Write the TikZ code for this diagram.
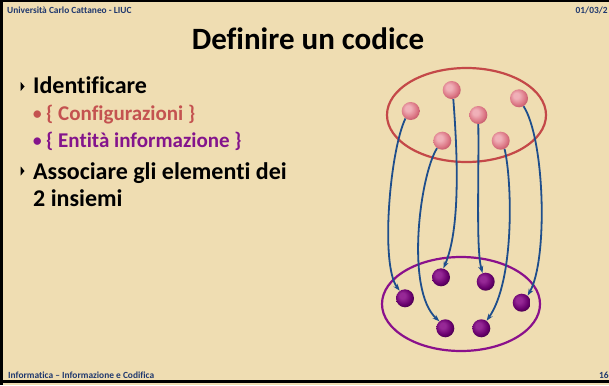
\documentclass[tikz,border=0pt]{standalone}
\usepackage{fontspec}
\setmainfont{Carlito}[Ligatures=NoCommon]
\usetikzlibrary{arrows.meta}
\definecolor{parch}{RGB}{239,221,178}
\definecolor{hdrblue}{RGB}{31,56,110}
\definecolor{cfgred}{RGB}{196,82,80}
\definecolor{infopurp}{RGB}{132,20,140}
\definecolor{ellred}{RGB}{196,72,72}
\definecolor{ellpurp}{RGB}{138,16,140}
\definecolor{pinkhi}{RGB}{240,176,184}
\definecolor{pinkmid}{RGB}{220,120,134}
\definecolor{pinklo}{RGB}{188,78,96}
\definecolor{purphi}{RGB}{150,40,150}
\definecolor{purpmid}{RGB}{105,0,110}
\definecolor{purplo}{RGB}{60,0,66}
\definecolor{arrblue}{RGB}{30,78,140}
\pgfdeclareradialshading{pinkshade}{\pgfpoint{-9bp}{9bp}}{color(0bp)=(pinkhi); color(8bp)=(pinkhi); color(22bp)=(pinkmid); color(32bp)=(pinklo); color(50bp)=(pinklo)}
\pgfdeclareradialshading{purpshade}{\pgfpoint{-9bp}{9bp}}{color(0bp)=(purphi); color(8bp)=(purphi); color(22bp)=(purpmid); color(32bp)=(purplo); color(50bp)=(purplo)}
\tikzset{
  hdr/.style={anchor=base west, text=hdrblue, font=\fontsize{9.4}{10}\selectfont\bfseries, inner sep=0},
  bigtxt/.style={anchor=base west, font=\fontsize{24}{28}\selectfont\bfseries, inner sep=0},
  subtxt/.style={anchor=base west, font=\fontsize{21}{24}\selectfont\bfseries, inner sep=0},
  dot/.style={anchor=base west, font=\fontsize{21}{24}\selectfont, inner sep=0},
  pball/.style={circle, minimum size=18pt, inner sep=0, shading=pinkshade},
  vball/.style={circle, minimum size=18pt, inner sep=0, shading=purpshade},
  maparr/.style={draw=arrblue, line width=1.8pt, -{Stealth[length=7pt,width=5pt]}},
}
\begin{document}
\begin{tikzpicture}[x=1pt,y=-1pt]
\useasboundingbox (0,0) rectangle (609,385);
\fill[parch] (0,0) rectangle (609,385);
\fill[black] (0,0) rectangle (609,2.5);
\fill[black] (0,0) rectangle (2.7,385);
\fill[black] (0,380) rectangle (609,383);

% header / footer
\node[hdr] (uni) at (7,14) {Università Carlo Cattaneo - LIUC};
\node[hdr] (date) at (575.5,14) {01/03/2};
\node[hdr] (foot) at (8,378) {Informatica – Informazione e Codifica};
\node[hdr] (page) at (599,378) {16};

% title
\node[anchor=base, font=\fontsize{31}{35}\selectfont\bfseries, inner sep=0] (title) at (308,49.3) {Definire un codice};

% bullets
\fill (20.7,82) -- (24.5,86.5) -- (20.7,91) -- cycle;
\node[bigtxt] (l1) at (33,93.3) {Identificare};
\node[dot, text=cfgred] (d1) at (32,120) {•};
\node[subtxt, text=cfgred] (l2) at (46,120) {\{ Configurazioni \}};
\node[dot, text=infopurp] (d2) at (32,147.3) {•};
\node[subtxt, text=infopurp] (l3) at (46,147.3) {\{ Entità informazione \}};
\fill (20.7,166.5) -- (24.5,171) -- (20.7,175.5) -- cycle;
\node[bigtxt] (l4) at (33,179.3) {Associare gli elementi dei};
\node[bigtxt] (l5) at (33,206) {2 insiemi};

% sets
\draw[ellred, line width=2.2pt] (466.5,115) ellipse [x radius=79.5, y radius=47];
\draw[ellpurp, line width=2.2pt] (461,304) ellipse [x radius=79, y radius=47];

\node[pball] (t1) at (451.7,90) {};
\node[pball] (t2) at (410.7,111) {};
\node[pball] (t3) at (519,98.3) {};
\node[pball] (t4) at (478.3,115) {};
\node[pball] (t5) at (442.3,140.7) {};
\node[pball] (t6) at (500.7,140.7) {};

\node[vball] (ba) at (441,277.3) {};
\node[vball] (bb) at (485.7,281.7) {};
\node[vball] (bc) at (405,298.3) {};
\node[vball] (bd) at (521.7,302.7) {};
\node[vball] (be) at (445.3,328.3) {};
\node[vball] (bf) at (481.3,328.3) {};

% mapping arrows
\draw[maparr] (t2.235) .. controls (390,150) and (380,265) .. (bc.125);
\draw[maparr] (t5.235) .. controls (420,175) and (405,290) .. (be.130);
\draw[maparr] (t1.280) .. controls (458,160) and (460,230) .. (ba.75);
\draw[maparr] (t4.270) .. controls (479,180) and (476,250) .. (bb.110);
\draw[maparr] (t6.295) .. controls (512,180) and (515,280) .. (bf.55);
\draw[maparr] (t3.300) .. controls (545,140) and (548,260) .. (bd.50);
\end{tikzpicture}
\end{document}
